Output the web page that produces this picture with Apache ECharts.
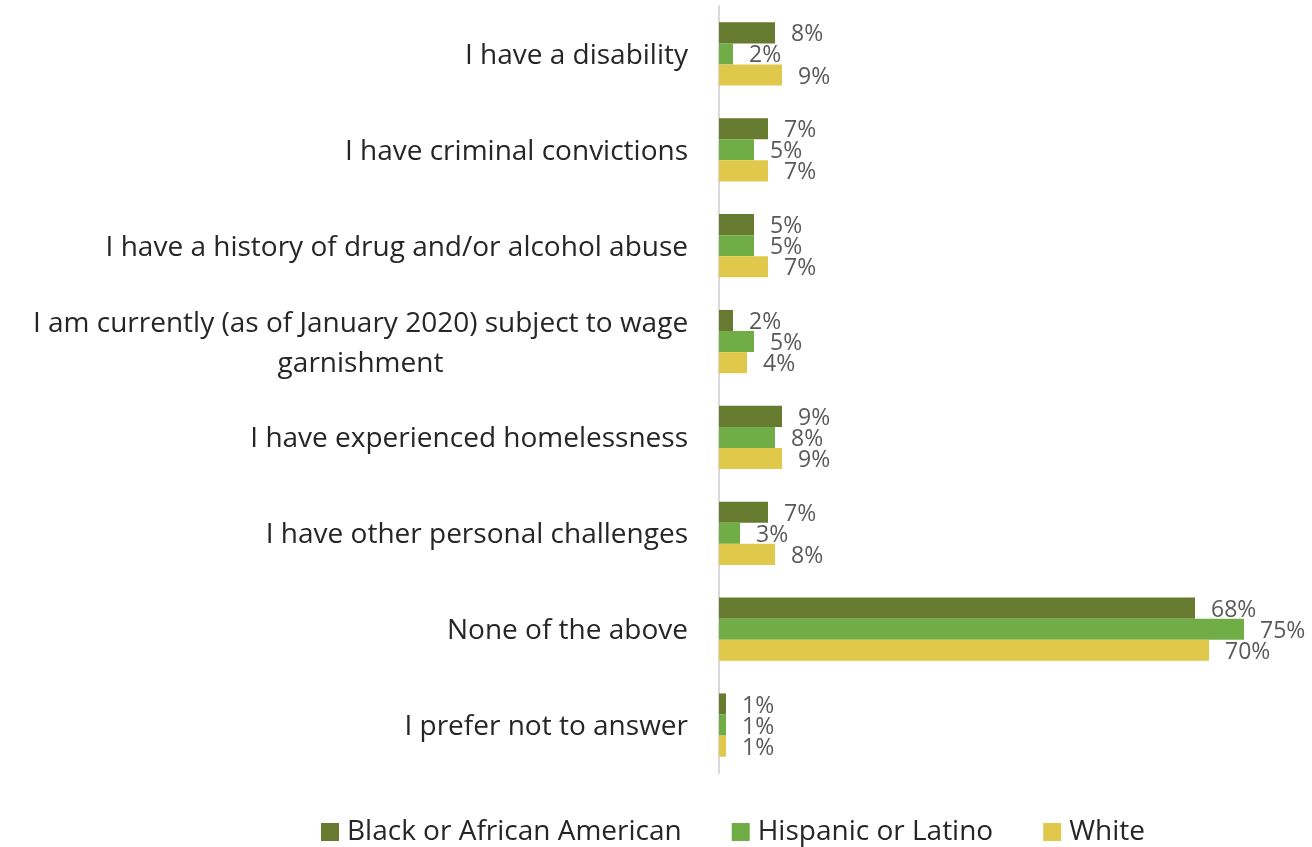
<!DOCTYPE html>
<html>
<head>
<meta charset="utf-8">
<script src="https://cdn.jsdelivr.net/npm/echarts@6/dist/echarts.min.js"></script>
<style>
  html, body { margin: 0; padding: 0; background: #fff; }
  #chart { width: 1312px; height: 847px; }
</style>
</head>
<body>
<div id="chart"></div>
<script>
const categories = [
  'I have a disability',
  'I have criminal convictions',
  'I have a history of drug and/or alcohol abuse',
  'I am currently (as of January 2020) subject to wage\ngarnishment',
  'I have experienced homelessness',
  'I have other personal challenges',
  'None of the above',
  'I prefer not to answer'
];
const seriesNames = ['Black or African American', 'Hispanic or Latino', 'White'];
const blackValues = [8, 7, 5, 2, 9, 7, 68, 1];
const hispanicValues = [2, 5, 5, 5, 8, 3, 75, 1];
const whiteValues = [9, 7, 7, 4, 9, 8, 70, 1];
const colors = ['#667A30', '#70AD47', '#E0C94A'];

const FONT = '"Open Sans", Lato, sans-serif';

function makeSeries(name, data, color) {
  return {
    name: name,
    type: 'bar',
    data: data,
    barGap: '0%',
    barCategoryGap: '34%',
    itemStyle: { color: color },
    label: {
      show: true,
      position: 'right',
      distance: 16,
      offset: [0, 2],
      formatter: p => p.value + '%',
      color: '#595959',
      fontSize: 23,
      fontFamily: FONT
    }
  };
}

const chart = echarts.init(document.getElementById('chart'));
chart.setOption({
  animation: false,
  backgroundColor: '#fff',
  grid: { left: 719, right: 33, top: 6, bottom: 74, containLabel: false },
  xAxis: {
    type: 'value',
    min: 0,
    max: 80,
    show: false
  },
  yAxis: {
    type: 'category',
    inverse: true,
    data: categories,
    axisLine: { show: true, lineStyle: { color: '#D9D9D9', width: 2 } },
    axisTick: { show: false },
    axisLabel: {
      margin: 31,
      color: '#262626',
      fontSize: 28,
      fontFamily: FONT,
      lineHeight: 40,
      padding: [4, 0, 0, 0],
      formatter: v => {
        if (v.indexOf('\n') >= 0) {
          return v.split('\n').map(s => '{c|' + s + '}').join('\n');
        }
        return v;
      },
      rich: {
        c: {
          width: 655,
          align: 'center',
          color: '#262626',
          fontSize: 28,
          fontFamily: FONT,
          lineHeight: 40
        }
      }
    }
  },
  legend: {
    top: 813,
    left: 316,
    itemWidth: 18,
    itemHeight: 18,
    itemGap: 50,
    icon: 'rect',
    textStyle: { color: '#262626', fontSize: 28, fontFamily: FONT, padding: [0, 0, 0, 3] },
    data: seriesNames
  },
  series: [
    makeSeries(seriesNames[0], blackValues, colors[0]),
    makeSeries(seriesNames[1], hispanicValues, colors[1]),
    makeSeries(seriesNames[2], whiteValues, colors[2])
  ]
});
</script>
</body>
</html>
